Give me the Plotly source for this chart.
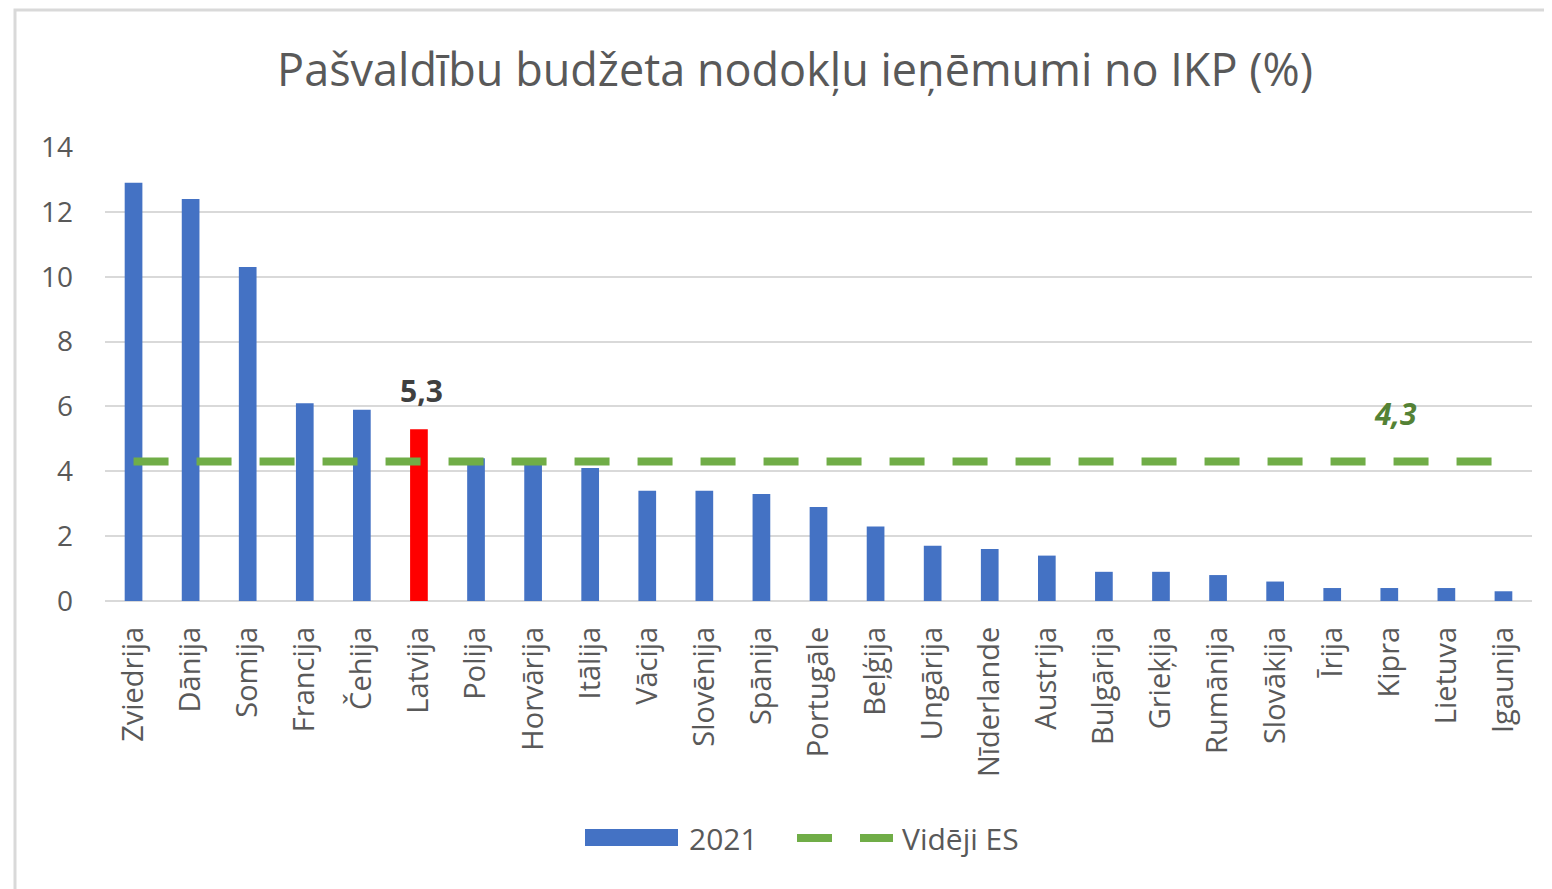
import plotly.graph_objects as go

# data
countries = ["Zviedrija", "Dānija", "Somija", "Francija", "Čehija", "Latvija", "Polija",
             "Horvārija", "Itālija", "Vācija", "Slovēnija", "Spānija", "Portugāle", "Beļģija",
             "Ungārija", "Nīderlande", "Austrija", "Bulgārija", "Grieķija", "Rumānija",
             "Slovākija", "Īrija", "Kipra", "Lietuva", "Igaunija"]
values_2021 = [12.9, 12.4, 10.3, 6.1, 5.9, 5.3, 4.4, 4.2, 4.1, 3.4, 3.4, 3.3, 2.9, 2.3,
               1.7, 1.6, 1.4, 0.9, 0.9, 0.8, 0.6, 0.4, 0.4, 0.4, 0.3]
eu_average = 4.3
highlight = "Latvija"

BLUE = "#4472C4"
RED = "#FF0000"
GREEN = "#70AD47"
TEXT = "#595959"
FONT = "Open Sans"

colors = [RED if c == highlight else BLUE for c in countries]

fig = go.Figure()
fig.add_trace(go.Bar(
    x=countries, y=values_2021, name="2021",
    marker=dict(color=colors, line=dict(width=0)),
    hovertemplate="<b>%{x}</b><br>%{y}<extra></extra>"
))
fig.add_trace(go.Scatter(
    x=countries, y=[eu_average] * len(countries), name="Vidēji ES",
    mode="lines", line=dict(color=GREEN, width=8, dash="35px,28px"),
    hovertemplate="Vidēji ES: %{y}<extra></extra>"
))

# data labels
lv_val = values_2021[countries.index(highlight)]
fig.add_annotation(x=highlight, y=lv_val, text=f"<b>{lv_val:.1f}</b>".replace(".", ","),
                   showarrow=False, yanchor="bottom", yshift=16, xshift=3,
                   font=dict(family=FONT, size=30, color="#404040"))
fig.add_annotation(x="Kipra", y=eu_average, text=f"<b><i>{eu_average:.1f}</i></b>".replace(".", ","),
                   showarrow=False, yanchor="bottom", yshift=26, xshift=6,
                   font=dict(family=FONT, size=30, color="#548235"))

# page draws the figure 8px in from the window corner, so work in screen px minus 8
OFF = 8
L, R, T, B = 105 - OFF, 1532 - OFF, 147 - OFF, 601 - OFF
W, H = R - L, B - T
px = lambda v: (v - OFF - L) / W
py = lambda v: (B - (v - OFF)) / H

shapes = [
    # outer chart border
    dict(type="rect", xref="paper", yref="paper", x0=px(15), x1=px(1570), y0=py(910), y1=py(10),
         line=dict(color="#D9D9D9", width=3), layer="below"),
    # custom legend
    dict(type="rect", xref="paper", yref="paper", x0=px(585), x1=px(678), y0=py(846), y1=py(829),
         fillcolor=BLUE, line=dict(width=0)),
    dict(type="line", xref="paper", yref="paper", x0=px(797), x1=px(832), y0=py(838), y1=py(838),
         line=dict(color=GREEN, width=8)),
    dict(type="line", xref="paper", yref="paper", x0=px(860), x1=px(893), y0=py(838), y1=py(838),
         line=dict(color=GREEN, width=8)),
]
fig.add_annotation(xref="paper", yref="paper", x=px(687), y=py(838), text="2021",
                   showarrow=False, xanchor="left", yanchor="middle",
                   font=dict(family=FONT, size=30, color=TEXT))
fig.add_annotation(xref="paper", yref="paper", x=px(900), y=py(838), text="Vidēji ES",
                   showarrow=False, xanchor="left", yanchor="middle",
                   font=dict(family=FONT, size=30, color=TEXT))

fig.update_layout(
    width=1552, height=889,
    margin=dict(l=L, r=1552 - R, t=T, b=889 - B),
    paper_bgcolor="white", plot_bgcolor="white",
    title=dict(text="Pašvaldību budžeta nodokļu ieņēmumi no IKP (%)",
               x=(795 - OFF) / 1552, xanchor="center", y=1 - (70 - OFF) / 889, yanchor="middle",
               font=dict(family=FONT, size=45, color=TEXT)),
    font=dict(family=FONT, color=TEXT),
    bargap=0.69,
    showlegend=False,
    shapes=shapes,
)
fig.update_xaxes(tickangle=-90, tickfont=dict(family=FONT, size=29, color=TEXT),
                 showline=False, ticks="", ticklabelstandoff=19)
fig.update_yaxes(range=[0, 14], dtick=2, showgrid=True, gridcolor="#D9D9D9", gridwidth=2,
                 zeroline=True, zerolinecolor="#D9D9D9", zerolinewidth=2,
                 tickfont=dict(family=FONT, size=28, color=TEXT), ticklabelstandoff=31)

fig.write_html("out.html")
